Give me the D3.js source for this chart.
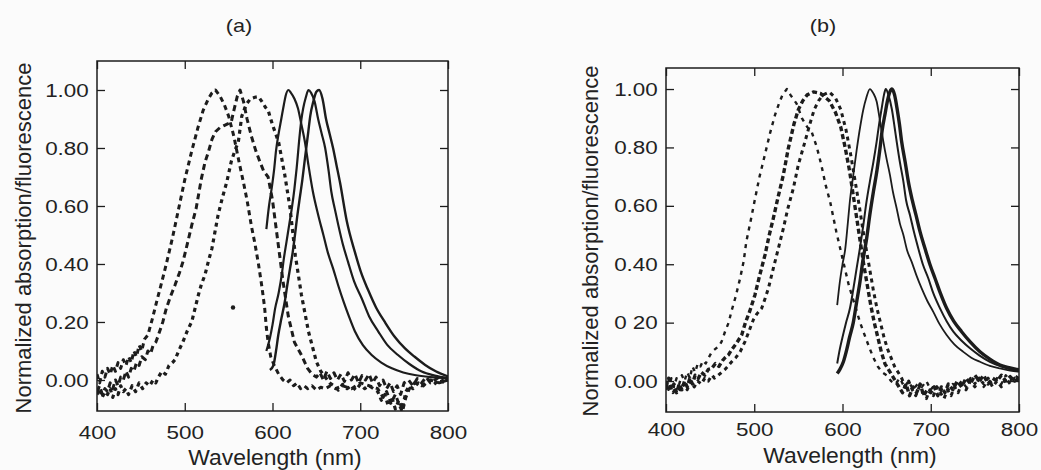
<!DOCTYPE html>
<html>
<head>
<meta charset="utf-8">
<script src="https://cdn.jsdelivr.net/npm/d3@7"></script>
<style>
  body { margin: 0; background: #fbfbfb; }
  svg text { font-family: "Liberation Sans", Arial, sans-serif; fill: #222; }
</style>
</head>
<body>
<div id="chart"></div>
<script>
// ---- data (wavelength nm, normalized value) ----
const wavelengthTicks = [400, 500, 600, 700, 800];
const valueTicks = [0, 0.2, 0.4, 0.6, 0.8, 1.0];
const valueLabelsA = ["0.00", "0.20", "0.40", "0.60", "0.80", "1.00"];
const valueLabelsB = ["0.00", "0 20", "0.40", "0.60", "0.80", "1.00"];

// panel (a) absorption (dashed)
const absA1 = [[400,0.02],[403,-0.01],[406,0.03],[409,0.01],[412,0.04],[415,0.02],[418,0.05],[421,0.03],[424,0.06],[427,0.04],[430,0.07],[433,0.05],[436,0.08],[439,0.06],[442,0.1],[445,0.08],[448,0.12],[451,0.1],[454,0.14],[458,0.155],[463,0.21],[468,0.27],[474,0.34],[479,0.4],[486,0.49],[493,0.59],[500,0.69],[508,0.79],[515,0.87],[521,0.93],[527,0.97],[531,0.99],[535,1.0],[540,0.98],[545,0.95],[550,0.91],[556,0.84],[562,0.75],[567,0.68],[571,0.62],[576,0.53],[580,0.47],[584,0.4],[588,0.32],[591,0.25],[593,0.18],[595,0.13],[598,0.08],[602,0.05],[607,0.02],[612,0.0],[616,-0.01],[620,0.0],[624,-0.02],[628,-0.01],[632,-0.03],[636,-0.02],[640,-0.03],[645,-0.02],[650,-0.035],[655,-0.025],[660,-0.03],[666,-0.02],[672,-0.03],[680,-0.02],[690,-0.03],[700,-0.01],[710,-0.02],[720,-0.03],[726,-0.06],[730,-0.04],[735,-0.08],[740,-0.05],[745,-0.09],[748,-0.11],[752,-0.06],[756,-0.03],[762,-0.01],[770,-0.02],[780,0.0],[790,-0.01],[800,0.0]];
const absA2 = [[400,-0.04],[403,-0.02],[406,-0.05],[409,-0.03],[412,-0.04],[415,-0.01],[418,-0.03],[421,0.0],[424,-0.02],[427,0.01],[430,0.0],[433,0.03],[436,0.01],[439,0.04],[442,0.03],[445,0.06],[448,0.05],[451,0.08],[455,0.07],[458,0.1],[461,0.09],[464,0.12],[467,0.13],[470,0.155],[475,0.2],[479,0.247],[484,0.29],[489,0.328],[494,0.37],[498,0.408],[503,0.47],[508,0.534],[513,0.592],[519,0.695],[523,0.75],[527,0.787],[531,0.83],[535,0.856],[540,0.87],[546,0.879],[550,0.885],[553,0.89],[556,0.93],[560,0.98],[563,1.0],[567,0.96],[571,0.9],[576,0.84],[581,0.79],[586,0.75],[590,0.72],[595,0.7],[600,0.62],[606,0.48],[612,0.34],[618,0.22],[625,0.13],[633,0.086],[640,0.04],[645,0.02],[650,0.01],[654,0.025],[658,0.0],[662,0.03],[666,0.005],[670,0.025],[674,0.0],[678,0.02],[682,-0.005],[686,0.025],[690,0.0],[694,0.02],[698,-0.01],[702,0.015],[706,0.0],[710,0.02],[714,-0.01],[718,0.01],[722,-0.02],[726,0.0],[730,-0.03],[734,-0.01],[738,-0.04],[742,-0.02],[746,-0.05],[750,-0.01],[755,0.0],[760,-0.02],[765,0.005],[770,-0.01],[775,0.01],[780,-0.01],[785,0.0],[790,0.01],[795,-0.005],[800,0.0]];
const absA3 = [[400,-0.05],[403,-0.03],[406,-0.06],[409,-0.04],[412,-0.05],[415,-0.03],[418,-0.06],[421,-0.03],[424,-0.05],[427,-0.02],[430,-0.04],[433,-0.03],[436,-0.05],[440,-0.02],[444,-0.04],[448,-0.01],[452,-0.03],[456,-0.01],[460,-0.02],[464,0.0],[467,-0.01],[470,0.01],[474,0.03],[478,0.02],[482,0.05],[486,0.06],[489,0.07],[493,0.1],[498,0.132],[503,0.17],[508,0.201],[512,0.25],[515.5,0.293],[519,0.33],[523,0.362],[527,0.41],[531,0.454],[535,0.52],[538,0.569],[543,0.63],[548,0.684],[553,0.753],[557,0.79],[561,0.82],[565,0.91],[570,0.95],[575,0.97],[580,0.975],[584,0.977],[588,0.96],[592,0.94],[595,0.93],[600,0.88],[607,0.82],[614,0.707],[620,0.593],[626,0.43],[633,0.293],[641,0.167],[650,0.063],[655,0.03],[660,0.01],[665,-0.01],[670,-0.02],[675,-0.035],[680,-0.015],[685,-0.03],[690,-0.02],[695,-0.035],[700,-0.015],[705,-0.03],[710,-0.02],[715,-0.03],[720,-0.04],[724,-0.07],[728,-0.05],[732,-0.09],[736,-0.06],[740,-0.1],[744,-0.07],[748,-0.1],[752,-0.04],[756,-0.02],[760,-0.03],[766,-0.01],[772,-0.02],[778,0.0],[784,-0.015],[790,0.0],[796,-0.01],[800,0.0]];
const strayA = [[555,0.25]];

// panel (a) fluorescence (solid)
const emA1 = [[593,0.52],[596,0.6],[599,0.66],[602,0.73],[604,0.79],[607,0.85],[610,0.9],[613,0.95],[615,0.98],[618,1.0],[621,0.99],[625,0.97],[629,0.937],[633,0.88],[637,0.82],[641,0.74],[646,0.65],[652,0.57],[658,0.5],[663,0.44],[669,0.385],[675,0.325],[681,0.27],[687,0.22],[694,0.167],[703,0.12],[713,0.086],[724,0.06],[736,0.04],[749,0.026],[762,0.017],[780,0.01],[800,0.006]];
const emA2 = [[593,0.1],[597,0.144],[600,0.19],[603,0.247],[607,0.3],[610.5,0.362],[613,0.42],[616,0.477],[619,0.535],[622,0.592],[625,0.66],[627.5,0.73],[631,0.845],[633,0.9],[635,0.937],[638,0.975],[641,1.0],[644,0.99],[648,0.96],[652,0.9],[656,0.85],[660,0.8],[664,0.72],[667,0.65],[671,0.59],[675,0.534],[680,0.47],[686,0.408],[693,0.34],[701.6,0.282],[710,0.22],[720.6,0.167],[731,0.12],[743,0.086],[756,0.055],[770,0.029],[785,0.015],[800,0.006]];
const emA3 = [[597,0.034],[601,0.05],[604,0.1],[606.6,0.155],[610,0.21],[614,0.27],[617,0.33],[620,0.385],[623,0.44],[625.6,0.5],[628,0.56],[631,0.626],[634,0.69],[637,0.764],[640.8,0.856],[643,0.91],[646.5,0.96],[650,0.994],[653,1.0],[657,0.97],[661,0.9],[665,0.85],[669,0.8],[673,0.74],[677,0.68],[684.5,0.55],[694,0.44],[701,0.37],[709,0.31],[718,0.25],[728,0.2],[739,0.15],[751,0.109],[762,0.08],[774,0.052],[786,0.03],[800,0.012]];

// panel (b) absorption (dashed)
const absB1 = [[400,0.0],[403,-0.03],[406,0.01],[409,-0.02],[412,0.01],[415,-0.01],[418,0.02],[421,0.0],[424,0.03],[427,0.01],[430,0.05],[433,0.03],[436,0.06],[439,0.05],[442,0.07],[445,0.06],[448,0.078],[452,0.1],[456,0.11],[460,0.12],[463,0.135],[467,0.17],[471,0.2],[474,0.237],[479,0.29],[484,0.352],[488,0.41],[491,0.477],[496,0.55],[501,0.626],[506,0.7],[512,0.774],[518,0.85],[523.5,0.911],[528,0.95],[532,0.98],[537,1.0],[541,0.98],[548,0.95],[554,0.9],[560,0.87],[565,0.854],[571,0.8],[576,0.74],[581,0.67],[586,0.614],[593,0.511],[600,0.42],[607,0.33],[614,0.26],[620,0.2],[626,0.15],[631,0.11],[635,0.08],[640,0.05],[645,0.03],[650,0.02],[655,0.0],[660,-0.01],[665,0.01],[670,-0.02],[675,0.0],[680,-0.03],[685,-0.01],[690,-0.02],[695,0.0],[700,-0.03],[705,-0.01],[710,-0.04],[715,-0.02],[720,-0.03],[725,-0.01],[730,-0.02],[735,0.0],[740,-0.02],[745,0.01],[750,-0.01],[755,0.01],[760,-0.02],[765,0.0],[770,-0.01],[775,0.01],[780,-0.01],[785,0.02],[790,0.0],[795,0.02],[800,0.01]];
const absB2 = [[400,-0.02],[403,0.01],[406,-0.03],[409,-0.01],[412,-0.04],[415,-0.01],[418,-0.03],[421,0.0],[424,-0.02],[427,0.01],[430,-0.01],[433,0.02],[436.6,0.009],[440,0.03],[444,0.02],[448,0.04],[451.8,0.043],[456,0.06],[460,0.05],[464,0.07],[467,0.08],[470.6,0.089],[475,0.11],[480,0.13],[485.8,0.158],[490,0.2],[495,0.24],[500.8,0.295],[506,0.36],[512.2,0.432],[517,0.5],[521.6,0.557],[527,0.63],[532.9,0.705],[538.6,0.797],[545,0.88],[550,0.93],[555,0.96],[560,0.98],[567,0.99],[575,0.985],[585,0.96],[592,0.92],[598,0.87],[603,0.8],[608,0.72],[612,0.64],[616,0.56],[620,0.48],[624,0.4],[628,0.33],[632,0.26],[636,0.2],[640,0.15],[644,0.1],[648,0.06],[652,0.04],[656,0.02],[660,0.0],[664,-0.02],[668,-0.04],[672,-0.01],[676,-0.05],[680,-0.02],[684,-0.04],[688,-0.01],[692,-0.05],[696,-0.03],[700,-0.04],[704,-0.02],[708,-0.05],[712,-0.02],[716,-0.04],[720,-0.01],[725,-0.03],[730,0.0],[735,-0.02],[740,0.01],[745,-0.01],[750,0.02],[755,0.0],[760,0.02],[765,-0.01],[770,0.01],[775,0.0],[780,0.02],[785,0.0],[790,0.015],[795,0.0],[800,0.01]];
const absB3 = [[400,-0.03],[404,-0.01],[408,-0.04],[412,-0.02],[416,-0.03],[420,-0.01],[424,-0.03],[428,0.0],[432,-0.02],[436,0.0],[440,-0.01],[444,0.01],[448,0.0],[452,0.02],[455,0.01],[459.3,0.02],[463,0.03],[467,0.04],[470,0.05],[474.4,0.066],[479,0.08],[484,0.1],[489.5,0.135],[494,0.17],[499,0.21],[503,0.23],[508.4,0.249],[512,0.28],[516,0.317],[521.6,0.386],[527,0.45],[533,0.523],[538,0.59],[544.3,0.66],[549.9,0.74],[557.5,0.82],[563,0.88],[568,0.93],[573,0.96],[578,0.98],[585,0.99],[592,0.97],[598,0.93],[604,0.86],[609,0.78],[614,0.69],[619,0.6],[623,0.52],[627,0.45],[631,0.38],[635,0.31],[639,0.25],[643,0.2],[647,0.15],[651,0.11],[655,0.08],[659,0.05],[663,0.03],[667,0.01],[671,-0.02],[675,0.0],[679,-0.03],[683,-0.05],[687,-0.02],[691,-0.04],[695,-0.06],[699,-0.03],[703,-0.05],[707,-0.02],[711,-0.04],[715,-0.06],[719,-0.03],[723,-0.05],[727,-0.02],[731,-0.04],[735,-0.01],[740,-0.03],[745,0.0],[750,-0.02],[755,0.01],[760,-0.01],[765,0.01],[770,-0.02],[775,0.0],[780,-0.02],[785,0.01],[790,-0.01],[795,0.01],[800,0.0]];

// panel (b) fluorescence (solid)
const emB1 = [[594,0.26],[597,0.34],[600,0.4],[603,0.45],[606,0.54],[608.5,0.62],[612,0.7],[616,0.79],[620,0.87],[623.6,0.93],[627,0.97],[631,1.0],[635,0.985],[638.7,0.957],[642,0.9],[646.3,0.82],[650,0.76],[653.8,0.705],[657,0.65],[661.4,0.591],[665,0.54],[669,0.5],[673,0.45],[678.4,0.408],[684,0.36],[689.7,0.317],[696,0.275],[702.9,0.237],[710,0.195],[718,0.158],[727,0.125],[736.9,0.1],[746,0.08],[755.8,0.066],[767,0.052],[778.5,0.043],[790,0.036],[800,0.032]];
const emB2 = [[594,0.06],[597,0.11],[600,0.15],[604,0.2],[608.5,0.25],[612,0.31],[616,0.386],[620,0.46],[623.6,0.534],[627,0.61],[631,0.683],[635,0.75],[638.7,0.82],[641.5,0.88],[644.4,0.934],[647,0.98],[649,1.0],[652,0.98],[656,0.93],[659,0.87],[661.4,0.82],[665,0.75],[669,0.683],[672,0.62],[676.5,0.568],[681,0.51],[685.9,0.454],[691,0.4],[697.2,0.352],[703,0.3],[710.5,0.249],[718,0.205],[725.6,0.169],[735,0.138],[744.5,0.112],[755,0.088],[767,0.066],[780,0.05],[793.6,0.038],[800,0.035]];
const emB3 = [[594,0.026],[597,0.04],[601,0.066],[605,0.11],[608,0.15],[612.2,0.2],[616,0.27],[619.8,0.34],[623,0.41],[627.4,0.489],[631,0.57],[635,0.648],[639,0.72],[642.5,0.797],[645,0.86],[648,0.911],[651,0.96],[653.8,0.991],[656,1.0],[659,0.98],[662,0.93],[664.5,0.88],[667,0.82],[671,0.75],[674.6,0.683],[679,0.62],[683.3,0.568],[688,0.51],[693.5,0.454],[699,0.4],[704.8,0.352],[711,0.3],[718,0.249],[726,0.205],[735,0.169],[745,0.133],[755.8,0.1],[767,0.075],[778.5,0.055],[790,0.045],[800,0.038]];

const width = 1041, height = 470;
const ink = "#1c1c1c";

const svg = d3.select("#chart").append("svg")
    .attr("width", width)
    .attr("height", height)
    .style("background", "#fbfbfb");

// panel boxes (pixels) and y range per panel
const panels = [
    {id: "a", title: "(a)", left: 97, right: 448, top: 61, bottom: 411, yMin: -0.107, yMax: 1.10,
     labels: valueLabelsA, titleX: 239, ylabX: 31, ylabY: 238, xlabX: 275, xlabY: 465, xPad: 15,
     absorption: [
        {data: absA1, dash: "5,4", w: 3},
        {data: absA2, dash: "6,4", w: 3},
        {data: absA3, dash: "4,4", w: 3.2}],
     emission: [{data: emA1, w: 2.2}, {data: emA2, w: 2.2}, {data: emA3, w: 2.4}],
     stray: strayA},
    {id: "b", title: "(b)", left: 666, right: 1019, top: 68, bottom: 412, yMin: -0.106, yMax: 1.072,
     labels: valueLabelsB, titleX: 823, ylabX: 598, ylabY: 241, xlabX: 850, xlabY: 463, xPad: 11,
     absorption: [
        {data: absB1, dash: "4,5", w: 2.4},
        {data: absB2, dash: "5,3", w: 3.4},
        {data: absB3, dash: "4,4", w: 3}],
     emission: [{data: emB1, w: 1.8}, {data: emB2, w: 2}, {data: emB3, w: 3.4}],
     stray: []}
];

panels.forEach(p => drawPanel(p));

function drawPanel(p) {
    let x = d3.scaleLinear().domain([400, 800]).range([p.left, p.right]);
    let y = d3.scaleLinear().domain([p.yMin, p.yMax]).range([p.bottom, p.top]);

    let g = svg.append("g").attr("class", "panel-" + p.id);

    g.append("clipPath").attr("id", "clip-" + p.id)
        .append("rect")
        .attr("x", p.left).attr("y", p.top)
        .attr("width", p.right - p.left).attr("height", p.bottom - p.top);

    // ticks on all four sides, pointing in
    let axes = [
        {ax: d3.axisLeft(y).tickValues(valueTicks).tickFormat((d, i) => p.labels[i]), t: `translate(${p.left},0)`},
        {ax: d3.axisRight(y).tickValues(valueTicks).tickFormat(""), t: `translate(${p.right},0)`},
        {ax: d3.axisBottom(x).tickValues(wavelengthTicks).tickFormat(d3.format("d")), t: `translate(0,${p.bottom})`, pad: p.xPad},
        {ax: d3.axisTop(x).tickValues(wavelengthTicks).tickFormat(""), t: `translate(0,${p.top})`}
    ];
    axes.forEach(a => {
        let ag = g.append("g")
            .attr("transform", a.t)
            .call(a.ax.tickSizeInner(-8).tickSizeOuter(0).tickPadding(a.pad || 7));
        ag.select(".domain").remove();
        ag.selectAll(".tick line").attr("stroke", ink).attr("stroke-width", 1.3);
        ag.selectAll(".tick text")
            .attr("fill", "#222")
            .style("font-size", "19px")
            .attr("transform", "scale(1.18,1)");
    });

    // frame
    g.append("rect")
        .attr("x", p.left).attr("y", p.top)
        .attr("width", p.right - p.left).attr("height", p.bottom - p.top)
        .attr("fill", "none")
        .attr("stroke", ink)
        .attr("stroke-width", 1.5);

    let plot = g.append("g").attr("clip-path", `url(#clip-${p.id})`);

    let lineAbs = d3.line().x(d => x(d[0])).y(d => y(d[1]));
    let lineEm = d3.line().x(d => x(d[0])).y(d => y(d[1])).curve(d3.curveMonotoneX);

    plot.selectAll("path.abs")
        .data(p.absorption)
        .enter()
        .append("path")
        .attr("class", "abs")
        .attr("d", d => lineAbs(d.data))
        .attr("fill", "none")
        .attr("stroke", ink)
        .attr("stroke-width", d => d.w)
        .attr("stroke-dasharray", d => d.dash)
        .attr("stroke-linejoin", "round");

    plot.selectAll("path.em")
        .data(p.emission)
        .enter()
        .append("path")
        .attr("class", "em")
        .attr("d", d => lineEm(d.data))
        .attr("fill", "none")
        .attr("stroke", ink)
        .attr("stroke-width", d => d.w);

    plot.selectAll("circle.stray")
        .data(p.stray)
        .enter()
        .append("circle")
        .attr("class", "stray")
        .attr("cx", d => x(d[0]))
        .attr("cy", d => y(d[1]))
        .attr("r", 2.2)
        .attr("fill", ink);

    // titles
    g.append("text")
        .attr("transform", `translate(${p.titleX},32) scale(1.2,1)`)
        .attr("text-anchor", "middle")
        .style("font-size", "18px")
        .text(p.title);

    g.append("text")
        .attr("transform", `translate(${p.ylabX},${p.ylabY}) rotate(-90)`)
        .attr("text-anchor", "middle")
        .style("font-size", "22px")
        .text("Normalized absorption/fluorescence");

    g.append("text")
        .attr("transform", `translate(${p.xlabX},${p.xlabY}) scale(1.04,1)`)
        .attr("text-anchor", "middle")
        .style("font-size", "22px")
        .text("Wavelength (nm)");
}
</script>
</body>
</html>
